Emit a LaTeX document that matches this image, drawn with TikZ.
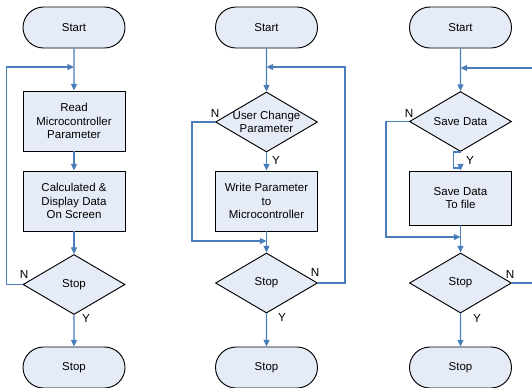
\documentclass[tikz,border=0pt]{standalone}
\usepackage{fontspec}
\setmainfont{Liberation Sans}
\usetikzlibrary{shapes.geometric,arrows.meta}
\definecolor{boxfill}{HTML}{E6ECF7}
\definecolor{flowblue}{HTML}{4A7EBB}
\tikzset{
  base/.style={draw=black, line width=0.7pt, fill=boxfill, inner sep=0pt,
    font=\fontsize{8.6}{10.1}\selectfont, align=center},
  term/.style={base, rounded rectangle, minimum width=76.5pt, minimum height=30.75pt},
  procbox/.style={base, rectangle, minimum width=76.5pt, minimum height=45pt},
  decision/.style={base, diamond, minimum width=76.5pt, minimum height=45pt},
  flow/.style={draw=flowblue, line width=0.9pt, -{Triangle[length=5pt,width=4.5pt]}},
  flowline/.style={draw=flowblue, line width=0.9pt},
  yn/.style={font=\fontsize{8.8}{10}\selectfont, inner sep=0pt}
}
\usetikzlibrary{shapes.misc}
\begin{document}
\begin{tikzpicture}[x=0.75pt,y=-0.75pt]
\useasboundingbox (0,0) rectangle (532,387);
% ---------- column 1 ----------
\node[term] (s1) at (74,27.5) {Start};
\node[procbox] (b11) at (74,121) {Read\\Microcontroller\\Parameter};
\node[procbox] (b12) at (74,201) {Calculated \&\\Display Data\\On Screen};
\node[decision, label={[yn,font=\fontsize{8.6}{10}\selectfont]center:Stop}] (d1) at (74,284.5) {};
\node[term] (e1) at (74,367.5) {Stop};
\coordinate (j1) at (74,67);
\draw[flow] (s1) -- (b11);
\draw[flow] (b11) -- (b12);
\draw[flow] (b12) -- (d1);
\draw[flow] (d1) -- (e1);
\draw[flow] (d1.west) -- ++(-16,0) |- (j1);
\node[yn] (n1) at (24,274) {N};
\node[yn] (y1) at (86,318) {Y};
% ---------- column 2 ----------
\node[term] (s2) at (266.5,27.5) {Start};
\node[decision, label={[yn,align=center,font=\fontsize{8.6}{10.1}\selectfont]center:User Change\\Parameter}] (d21) at (266.5,122) {};
\node[procbox] (b2) at (266.5,201) {Write Parameter\\to\\Microcontroller};
\node[decision, label={[yn,font=\fontsize{8.6}{10}\selectfont]center:Stop}] (d22) at (266.5,283) {};
\node[term] (e2) at (266.5,367.5) {Stop};
\coordinate (j21) at (266.5,67);
\coordinate (j22) at (266.5,241);
\draw[flow] (s2) -- (d21);
\draw[flow] (d21) -- (b2);
\draw[flow] (b2) -- (d22);
\draw[flow] (d22) -- (e2);
\draw[flow] (d21.west) -- ++(-23,0) |- (j22);
\draw[flow] (d22.east) -- ++(27,0) |- (j21);
\node[yn] (n21) at (215,113) {N};
\node[yn] (y21) at (276,160) {Y};
\node[yn] (n22) at (315,272) {N};
\node[yn] (y22) at (282,317) {Y};
% ---------- column 3 ----------
\node[term] (s3) at (460.5,27.5) {Start};
\node[decision, label={[yn,font=\fontsize{8.6}{10}\selectfont]center:Save Data}] (d31) at (460.5,121.5) {};
\node[procbox, minimum height=40.5pt] (b3) at (460.5,198) {Save Data\\To file};
\node[decision, label={[yn,font=\fontsize{8.6}{10}\selectfont]center:Stop}] (d32) at (460.5,283) {};
\node[term] (e3) at (460.5,367.5) {Stop};
\coordinate (j31) at (460.5,68);
\coordinate (j32) at (460.5,237);
\coordinate (r31) at (534,68);
\coordinate (r32) at (534,283);
\draw[flow] (s3) -- (d31);
\draw[flow] (d31.south) -- ++(-7,0) -- ++(0,16) -| (b3.north);
\draw[flow] (b3) -- (d32);
\draw[flow] (d32) -- (e3);
\draw[flow] (d31.west) -- ++(-23,0) |- (j32);
\draw[flowline] (d32.east) -- (r32);
\draw[flow] (r31) -- (j31);
\node[yn] (n31) at (409,113) {N};
\node[yn] (y31) at (470,160) {Y};
\node[yn] (n32) at (510,274) {N};
\node[yn] (y32) at (477,318) {Y};
\end{tikzpicture}
\end{document}
